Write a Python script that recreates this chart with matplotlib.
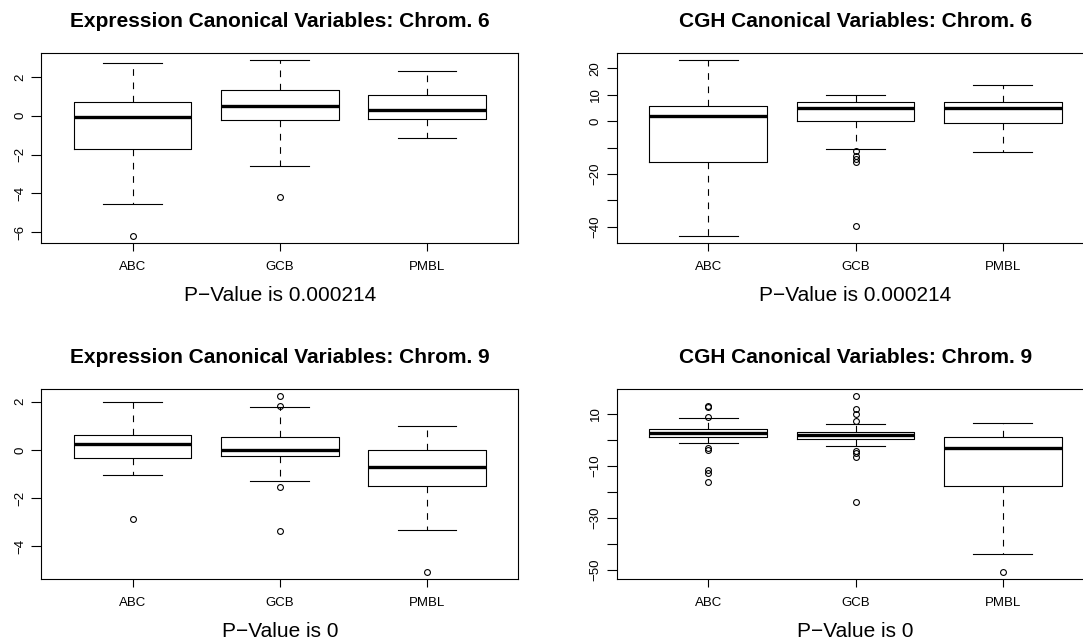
import matplotlib
matplotlib.use("Agg")
import matplotlib.pyplot as plt

plt.rcParams.update({
    "font.family": ["Liberation Sans", "DejaVu Sans"],
    "axes.linewidth": 0.8,
    "xtick.major.width": 0.8,
    "ytick.major.width": 0.8,
})

groups = ["ABC", "GCB", "PMBL"]

# Expression canonical variables, chrom. 6
expr6_hi = [2.72, 2.86, 2.29]
expr6_q3 = [0.69, 1.33, 1.05]
expr6_med = [-0.07, 0.52, 0.31]
expr6_q1 = [-1.71, -0.24, -0.17]
expr6_lo = [-4.57, -2.57, -1.14]
expr6_out = [[-6.18], [-4.17], []]

# CGH canonical variables, chrom. 6
cgh6_hi = [23.1, 10.1, 13.7]
cgh6_q3 = [5.9, 7.2, 7.2]
cgh6_med = [2.1, 4.9, 5.0]
cgh6_q1 = [-15.6, -0.1, -0.8]
cgh6_lo = [-43.4, -10.4, -11.8]
cgh6_out = [[], [-11.3, -13.0, -14.3, -15.4, -39.6], []]

# Expression canonical variables, chrom. 9
expr9_hi = [1.97, 1.77, 0.98]
expr9_q3 = [0.63, 0.54, -0.01]
expr9_med = [0.25, 0.01, -0.72]
expr9_q1 = [-0.34, -0.26, -1.48]
expr9_lo = [-1.03, -1.31, -3.32]
expr9_out = [[-2.87], [2.22, 1.83, -1.53, -3.36], [-5.05]]

# CGH canonical variables, chrom. 9
cgh9_hi = [8.4, 6.0, 6.4]
cgh9_q3 = [4.1, 2.9, 1.0]
cgh9_med = [2.6, 1.8, -3.3]
cgh9_q1 = [1.1, 0.4, -17.7]
cgh9_lo = [-1.3, -2.3, -43.9]
cgh9_out = [[13.1, 12.7, 8.8, -3.2, -3.9, -11.4, -12.9, -16.3],
            [16.7, 11.9, 10.1, 7.2, -4.1, -5.0, -6.4, -23.8],
            [-50.6]]

W, H = 1083, 643
fig = plt.figure(figsize=(W / 100, H / 100), dpi=100)


def panel(left_px, top_px, title, pval, hi, q3, med, q1, lo, out, ticks, shown):
    # plot region in pixels, right-hand panels run past the image edge (cropped)
    ax = fig.add_axes([left_px / W, 1 - (top_px + 189.4) / H, 477 / W, 189.4 / H])
    stats = []
    for i, g in enumerate(groups):
        stats.append(dict(label=g, whishi=hi[i], q3=q3[i], med=med[i],
                          q1=q1[i], whislo=lo[i], fliers=out[i]))
    ax.bxp(stats, positions=[1, 2, 3], widths=0.8, capwidths=0.4,
           boxprops=dict(color="black", linewidth=0.8),
           whiskerprops=dict(color="black", linewidth=0.8, linestyle=(0, (6, 6))),
           capprops=dict(color="black", linewidth=0.8),
           medianprops=dict(color="black", linewidth=2.4),
           flierprops=dict(marker="o", markerfacecolor="none",
                           markeredgecolor="black", markersize=4.2,
                           markeredgewidth=0.8))
    vals = hi + lo + [v for o in out for v in o]
    vmin, vmax = min(vals), max(vals)
    pad = (vmax - vmin) * 0.04
    ax.set_ylim(vmin - pad, vmax + pad)
    ax.set_xlim(0.38, 3.62)
    ax.set_yticks(ticks)
    ax.set_yticklabels([f"{t:g}".replace("-", "\u2212") if t in shown else ""
                        for t in ticks])
    ax.tick_params(axis="y", labelrotation=90, length=7, pad=4, labelsize=9.5)
    ax.tick_params(axis="x", length=6, pad=7, labelsize=9.5)
    for lab in ax.get_yticklabels():
        lab.set_va("center")
    ax.annotate(title, xy=(0.5, 1), xycoords="axes fraction", xytext=(0, 23),
                textcoords="offset points", ha="center", va="center",
                fontsize=15, fontweight="bold")
    ax.annotate(pval, xy=(0.5, 0), xycoords="axes fraction", xytext=(0, -38),
                textcoords="offset points", ha="center", va="center",
                fontsize=15)
    return ax


panel(41.3, 53.3, "Expression Canonical Variables: Chrom. 6",
      "P\u2212Value is 0.000214",
      expr6_hi, expr6_q3, expr6_med, expr6_q1, expr6_lo, expr6_out,
      [-6, -4, -2, 0, 2], [-6, -4, -2, 0, 2])
panel(617, 53.3, "CGH Canonical Variables: Chrom. 6",
      "P\u2212Value is 0.000214",
      cgh6_hi, cgh6_q3, cgh6_med, cgh6_q1, cgh6_lo, cgh6_out,
      [-40, -30, -20, -10, 0, 10, 20], [-40, -20, 0, 10, 20])
panel(41.3, 389.3, "Expression Canonical Variables: Chrom. 9",
      "P\u2212Value is 0",
      expr9_hi, expr9_q3, expr9_med, expr9_q1, expr9_lo, expr9_out,
      [-4, -2, 0, 2], [-4, -2, 0, 2])
panel(617, 389.3, "CGH Canonical Variables: Chrom. 9",
      "P\u2212Value is 0",
      cgh9_hi, cgh9_q3, cgh9_med, cgh9_q1, cgh9_lo, cgh9_out,
      [-50, -40, -30, -20, -10, 0, 10], [-50, -30, -10, 10])

fig.savefig("out.png", dpi=100)
